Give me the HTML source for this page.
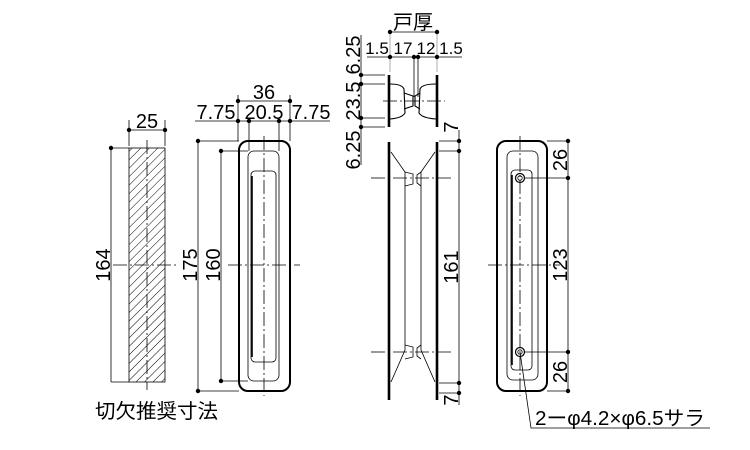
<!DOCTYPE html>
<html><head><meta charset="utf-8"><style>
html,body{margin:0;padding:0;background:#fff;}
svg{display:block;}
text{font-family:"Liberation Sans","Noto Sans CJK JP",sans-serif;fill:#000;}
</style></head><body>
<svg width="750" height="450" viewBox="0 0 750 450" xmlns="http://www.w3.org/2000/svg">
<defs>
<pattern id="h" width="6" height="6" patternUnits="userSpaceOnUse" patternTransform="rotate(45)">
<line x1="0" y1="0" x2="0" y2="6" stroke="#000" stroke-width="1"/>
</pattern>
</defs>
<g stroke="#000" fill="none" stroke-width="0.8">
<rect x="129" y="148" width="36" height="234" fill="url(#h)"/>
<line x1="147" y1="140" x2="147" y2="390" stroke-dasharray="14,3,2,3"/>
<line x1="129" y1="120" x2="129" y2="146"/><line x1="165" y1="120" x2="165" y2="146"/>
<line x1="129" y1="130" x2="165" y2="130"/>
<line x1="111" y1="148" x2="129" y2="148"/><line x1="111" y1="382" x2="129" y2="382"/>
<line x1="111" y1="148" x2="111" y2="382"/>
<line x1="113" y1="265" x2="178" y2="265" stroke-dasharray="14,3,2,3"/>
<rect x="239" y="141" width="51" height="250" rx="9" stroke-width="2"/>
<rect x="248" y="151" width="31" height="230" rx="6"/>
<rect x="251" y="171" width="25" height="191" rx="4"/>
<line x1="252" y1="176" x2="252" y2="357" stroke-width="1.6"/>
<line x1="264" y1="136" x2="264" y2="396" stroke-dasharray="14,3,2,3"/>
<line x1="228" y1="265" x2="300" y2="265" stroke-dasharray="14,3,2,3"/>
<line x1="238" y1="95" x2="238" y2="141"/><line x1="290" y1="95" x2="290" y2="141"/>
<line x1="249" y1="121" x2="249" y2="151"/><line x1="279" y1="121" x2="279" y2="151"/>
<line x1="238" y1="101" x2="290" y2="101"/>
<line x1="195" y1="121" x2="330" y2="121"/>
<line x1="198" y1="141" x2="239" y2="141"/><line x1="198" y1="391" x2="239" y2="391"/>
<line x1="198" y1="141" x2="198" y2="391"/>
<line x1="221" y1="151" x2="248" y2="151"/><line x1="221" y1="381" x2="248" y2="381"/>
<line x1="221" y1="151" x2="221" y2="381"/>
<line x1="389" y1="75" x2="389" y2="127" stroke-width="2.6"/>
<line x1="437" y1="75" x2="437" y2="127" stroke-width="2.6"/>
<path d="M390 84 Q402 84 404 89 L405 113 Q402 118 390 119" stroke-width="1.1"/>
<path d="M404 93 L413 96 L413 106 L404 109" stroke-width="1.1"/>
<path d="M436 84 Q422 84 420 89 L419 113 Q422 118 436 119" stroke-width="1.1"/>
<path d="M420 93 L415 96 L415 106 L420 109" stroke-width="1.1"/>
<line x1="383" y1="101" x2="445" y2="101" stroke-dasharray="14,3,2,3"/>
<line x1="414" y1="57" x2="414" y2="97"/><line x1="418" y1="57" x2="418" y2="97"/>
<line x1="390" y1="32" x2="390" y2="72" stroke="#999"/><line x1="437" y1="32" x2="437" y2="72" stroke="#999"/>
<line x1="390" y1="32" x2="437" y2="32"/>
<line x1="367" y1="57" x2="462" y2="57"/>
<line x1="361" y1="35" x2="361" y2="165"/>
<line x1="361" y1="75" x2="385" y2="75"/><line x1="361" y1="84" x2="385" y2="84"/>
<line x1="361" y1="118" x2="385" y2="118"/><line x1="361" y1="127" x2="385" y2="127"/>
<line x1="389" y1="142" x2="389" y2="400" stroke-width="2.6"/>
<line x1="437" y1="142" x2="437" y2="400" stroke-width="2.6"/>
<path d="M391 152 L405 172 L405 350 L391 382"/>
<path d="M435 152 L421 172 L421 350 L435 382"/>
<path d="M405 172 L413 174 L413 184 L405 186"/>
<path d="M421 172 L417 175 L417 183 L421 186"/>
<path d="M405 345 L413 347 L413 357 L405 359"/>
<path d="M421 345 L417 348 L417 356 L421 359"/>
<line x1="371" y1="178" x2="453" y2="178" stroke-dasharray="14,3,2,3"/>
<line x1="371" y1="352" x2="453" y2="352" stroke-dasharray="14,3,2,3"/>
<line x1="439" y1="141" x2="459" y2="141"/><line x1="439" y1="151" x2="459" y2="151"/>
<line x1="439" y1="383" x2="459" y2="383"/><line x1="439" y1="393" x2="459" y2="393"/>
<line x1="459" y1="130" x2="459" y2="405"/>
<rect x="497" y="141" width="50" height="250" rx="9" stroke-width="2"/>
<rect x="507" y="151" width="31" height="229" rx="6"/>
<rect x="511" y="170" width="21" height="200" rx="4"/>
<line x1="512" y1="175" x2="512" y2="365" stroke-width="1.6"/>
<line x1="520" y1="136" x2="520" y2="396" stroke-dasharray="14,3,2,3"/>
<line x1="488" y1="265" x2="560" y2="265" stroke-dasharray="14,3,2,3"/>
<circle cx="520" cy="178" r="4.5" stroke-width="1.2"/><circle cx="520" cy="178" r="2.2"/>
<circle cx="520" cy="352" r="4.5" stroke-width="1.2"/><circle cx="520" cy="352" r="2.2"/>
<line x1="547" y1="141" x2="568" y2="141"/><line x1="524" y1="178" x2="568" y2="178"/>
<line x1="524" y1="352" x2="568" y2="352"/><line x1="547" y1="391" x2="568" y2="391"/>
<line x1="568" y1="141" x2="568" y2="391"/>
<polyline points="520,352 531,428 710,428"/>
</g>
<g fill="#000">
<circle cx="129" cy="130" r="2.2"/><circle cx="165" cy="130" r="2.2"/><circle cx="111" cy="148" r="2.2"/>
<circle cx="238" cy="101" r="2.2"/><circle cx="290" cy="101" r="2.2"/>
<circle cx="238" cy="121" r="2.2"/><circle cx="249" cy="121" r="2.2"/><circle cx="279" cy="121" r="2.2"/><circle cx="290" cy="121" r="2.2"/>
<circle cx="198" cy="141" r="2.2"/><circle cx="198" cy="391" r="2.2"/><circle cx="221" cy="151" r="2.2"/><circle cx="221" cy="381" r="2.2"/>
<circle cx="390" cy="32" r="2.2"/><circle cx="437" cy="32" r="2.2"/>
<circle cx="390" cy="57" r="2.2"/><circle cx="414" cy="57" r="2.2"/><circle cx="418" cy="57" r="2.2"/><circle cx="437" cy="57" r="2.2"/>
<circle cx="361" cy="75" r="2.2"/><circle cx="361" cy="84" r="2.2"/><circle cx="361" cy="118" r="2.2"/><circle cx="361" cy="127" r="2.2"/>
<circle cx="459" cy="141" r="2.2"/><circle cx="459" cy="151" r="2.2"/><circle cx="459" cy="383" r="2.2"/><circle cx="459" cy="393" r="2.2"/>
<circle cx="568" cy="141" r="2.2"/><circle cx="568" cy="178" r="2.2"/><circle cx="568" cy="352" r="2.2"/><circle cx="568" cy="391" r="2.2"/>
</g>
<g font-size="20">
<text x="147" y="128" text-anchor="middle">25</text>
<text transform="translate(110,265) rotate(-90)" text-anchor="middle">164</text>
<text x="264" y="99" text-anchor="middle">36</text>
<text x="216" y="119" text-anchor="middle">7.75</text>
<text x="264" y="119" text-anchor="middle">20.5</text>
<text x="311" y="119" text-anchor="middle">7.75</text>
<text transform="translate(197,265) rotate(-90)" text-anchor="middle">175</text>
<text transform="translate(220,265) rotate(-90)" text-anchor="middle">160</text>
<text x="413" y="29" text-anchor="middle">戸厚</text>
<text transform="translate(458,267) rotate(-90)" text-anchor="middle">161</text>
<text transform="translate(567,265) rotate(-90)" text-anchor="middle">123</text>
<text transform="translate(567,160) rotate(-90)" text-anchor="middle">26</text>
<text transform="translate(567,372) rotate(-90)" text-anchor="middle">26</text>
<text transform="translate(458,127) rotate(-90)" text-anchor="middle">7</text>
<text transform="translate(458,400) rotate(-90)" text-anchor="middle">7</text>
<text transform="translate(360,55) rotate(-90)" text-anchor="middle">6.25</text>
<text transform="translate(360,101) rotate(-90)" text-anchor="middle">23.5</text>
<text transform="translate(360,150) rotate(-90)" text-anchor="middle">6.25</text>
<text x="535" y="425" textLength="170" lengthAdjust="spacingAndGlyphs">2ーφ4.2×φ6.5サラ</text>
<text x="95" y="418" textLength="123" lengthAdjust="spacingAndGlyphs">切欠推奨寸法</text>
</g>
<g font-size="17">
<text x="377" y="54" text-anchor="middle">1.5</text>
<text x="403" y="54" text-anchor="middle">17</text>
<text x="426" y="54" text-anchor="middle">12</text>
<text x="451" y="54" text-anchor="middle">1.5</text>
</g>
</svg>
</body></html>
